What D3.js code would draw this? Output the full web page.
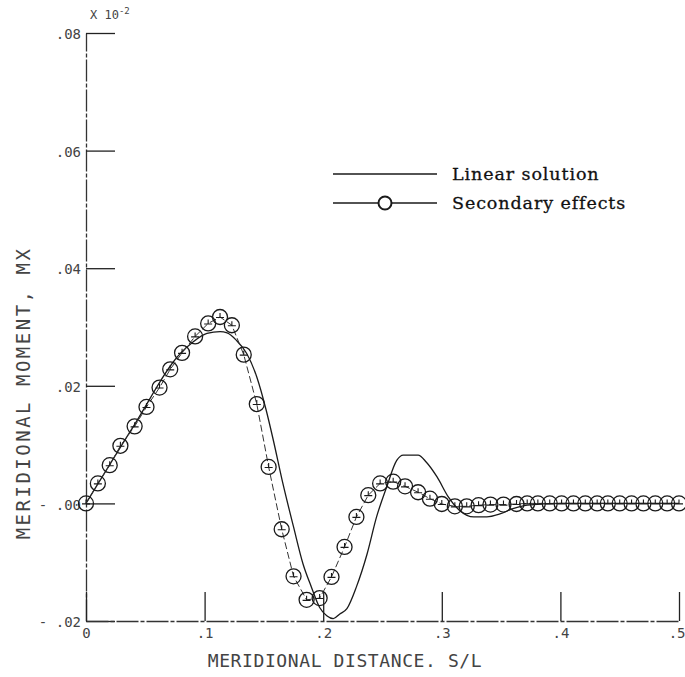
<!DOCTYPE html>
<html>
<head>
<meta charset="utf-8">
<script src="https://cdn.jsdelivr.net/npm/d3@7"></script>
<style>
  html, body { margin: 0; padding: 0; background: #fff; }
  svg { display: block; }
  .mono { font-family: "DejaVu Sans Mono", "Liberation Mono", monospace; fill: #444; }
  .legend { font-family: "DejaVu Serif", "Liberation Serif", serif; fill: #111; }
</style>
</head>
<body>
<svg width="685" height="677"></svg>
<script>
// meridional moment along the shell, linear solution vs. secondary effects
const linS = [0, 0.04, 0.08, 0.09, 0.102, 0.113, 0.119, 0.127, 0.1355, 0.144, 0.152, 0.158,
  0.166, 0.175, 0.183, 0.190, 0.197, 0.203, 0.2085, 0.214, 0.220, 0.228, 0.237, 0.245,
  0.2535, 0.262, 0.2675, 0.280, 0.287, 0.296, 0.3055, 0.315, 0.327, 0.338, 0.349, 0.360,
  0.372, 0.40, 0.45, 0.50]
const linV = [0, 0.0131, 0.0256, 0.0274, 0.0289, 0.0292, 0.0290, 0.0277, 0.0255, 0.0215, 0.0158, 0.0107,
  0.0034, -0.0040, -0.0103, -0.0142, -0.0177, -0.0191, -0.0196, -0.0188, -0.0179, -0.0142, -0.0086, -0.0023,
  0.0028, 0.0073, 0.0082, 0.0082, 0.0070, 0.0045, 0.0011, -0.0012, -0.0023, -0.0023, -0.0018, -0.0009,
  -0.0003, 0, 0, 0]

const secS = [0, 0.010, 0.020, 0.029, 0.041, 0.051, 0.062, 0.071, 0.081, 0.092,
  0.103, 0.113, 0.123, 0.133, 0.144, 0.154, 0.165, 0.175, 0.186, 0.197,
  0.207, 0.218, 0.228, 0.238, 0.248, 0.259, 0.269, 0.280, 0.290, 0.300,
  0.311, 0.321, 0.331, 0.341, 0.352, 0.363, 0.372, 0.381, 0.391, 0.401,
  0.411, 0.421, 0.431, 0.440, 0.450, 0.460, 0.470, 0.480, 0.490, 0.500]
const secV = [0, 0.0034, 0.0065, 0.0098, 0.0131, 0.0164, 0.0197, 0.0228, 0.0256, 0.0284,
  0.0306, 0.0317, 0.0303, 0.0253, 0.0169, 0.0062, -0.0044, -0.0124, -0.0164, -0.0161,
  -0.0125, -0.0074, -0.0023, 0.0014, 0.0034, 0.0037, 0.0029, 0.0019, 0.0008, -0.0001,
  -0.0005, -0.0005, -0.0003, -0.0002, -0.0002, -0.0001, 0, 0, 0, 0,
  0, 0, 0, 0, 0, 0, 0, 0, 0, 0]

const xTicks = [0, 0.1, 0.2, 0.3, 0.4, 0.5]
const xTickLabels = ['0', '.1', '.2', '.3', '.4', '.5']
const yTicks = [-0.02, 0, 0.02, 0.04, 0.06, 0.08]
const yTickLabels = ['- .02', '- .00', '.02', '.04', '.06', '.08']
const seriesNames = ['Linear solution', 'Secondary effects']

const svg = d3.select('svg')
const ink = '#1a1a1a'

const x = d3.scaleLinear().domain([0, 0.5]).range([86, 679])
const y = d3.scaleLinear().domain([-0.02, 0.08]).range([621, 33])

// axes: ticks point inward, labels outside
const yAxis = d3.axisLeft(y)
  .tickValues(yTicks)
  .tickSizeInner(-29)
  .tickSizeOuter(0)
  .tickPadding(5)
  .tickFormat((d, i) => yTickLabels[i])
const xAxis = d3.axisBottom(x)
  .tickValues(xTicks)
  .tickSizeInner(-29)
  .tickSizeOuter(0)
  .tickPadding(7)
  .tickFormat((d, i) => xTickLabels[i])

const gy = svg.append('g').attr('transform', 'translate(86,0)').call(yAxis)
const gx = svg.append('g').attr('transform', 'translate(0,621)').call(xAxis)

;[gx, gy].forEach(g => {
  g.select('.domain').attr('stroke', '#333').attr('stroke-width', 1.3)
    .attr('stroke-dasharray', '22,2,4,2')
  g.selectAll('.tick line').attr('stroke', '#222').attr('stroke-width', 1.3)
  g.selectAll('.tick text')
    .attr('class', 'mono')
    .attr('font-size', 14)
    .attr('fill', '#444')
    .style('font-family', '"DejaVu Sans Mono", monospace')
})
gy.selectAll('.tick text').attr('dy', '0.4em')
// last x label sits against the right edge
gx.selectAll('.tick text').filter((d, i) => i === xTicks.length - 1)
  .attr('text-anchor', 'end').attr('x', 6)

// scale factor note above the y axis
const note = svg.append('text').attr('class', 'mono')
  .attr('x', 90).attr('y', 19).attr('font-size', 12)
note.append('tspan').text('X 10')
note.append('tspan').attr('dy', -5).attr('font-size', 9).text('-2')

// axis titles
svg.append('text').attr('class', 'mono')
  .attr('x', 345).attr('y', 667)
  .attr('text-anchor', 'middle')
  .attr('font-size', 18)
  .attr('letter-spacing', 0.6)
  .text('MERIDIONAL DISTANCE. S/L')

svg.append('text').attr('class', 'mono')
  .attr('transform', 'translate(30,393) rotate(-90)')
  .attr('text-anchor', 'middle')
  .attr('font-size', 19)
  .attr('letter-spacing', 2.5)
  .text('MERIDIONAL MOMENT, MX')

// linear solution
const linPts = linS.map((s, i) => [s, linV[i]])
svg.append('path')
  .datum(linPts)
  .attr('fill', 'none')
  .attr('stroke', ink)
  .attr('stroke-width', 1.3)
  .attr('d', d3.line().x(d => x(d[0])).y(d => y(d[1])).curve(d3.curveMonotoneX))

// secondary effects: connecting line and circled-plus markers
const secPts = secS.map((s, i) => [s, secV[i]])
svg.append('path')
  .datum(secPts)
  .attr('fill', 'none')
  .attr('stroke', '#333')
  .attr('stroke-width', 1)
  .attr('stroke-dasharray', '7,3')
  .attr('d', d3.line().x(d => x(d[0])).y(d => y(d[1])))

const marks = svg.append('g').selectAll('g')
  .data(secPts)
  .join('g')
  .attr('transform', d => `translate(${x(d[0])},${y(d[1])})`)
marks.append('circle')
  .attr('r', 7.5)
  .attr('fill', 'none')
  .attr('stroke', ink)
  .attr('stroke-width', 1.3)
marks.append('path')
  .attr('d', 'M-4,0.5H4M0,-4V0.5')
  .attr('stroke', ink)
  .attr('stroke-width', 1.1)

// legend
const legend = svg.append('g')
legend.append('line')
  .attr('x1', 333).attr('x2', 437).attr('y1', 174).attr('y2', 174)
  .attr('stroke', ink).attr('stroke-width', 1.6)
legend.append('line')
  .attr('x1', 333).attr('x2', 437).attr('y1', 203).attr('y2', 203)
  .attr('stroke', ink).attr('stroke-width', 1.6)
legend.append('circle')
  .attr('cx', 385).attr('cy', 203).attr('r', 6.5)
  .attr('fill', '#fff').attr('stroke', ink).attr('stroke-width', 2)
legend.selectAll('text.legend')
  .data(seriesNames)
  .join('text')
  .attr('class', 'legend')
  .attr('x', 452)
  .attr('y', (d, i) => 180 + i * 29)
  .attr('font-size', 17.5)
  .attr('letter-spacing', 0.9)
  .attr('stroke', '#111')
  .attr('stroke-width', 0.3)
  .text(d => d)
</script>
</body>
</html>
